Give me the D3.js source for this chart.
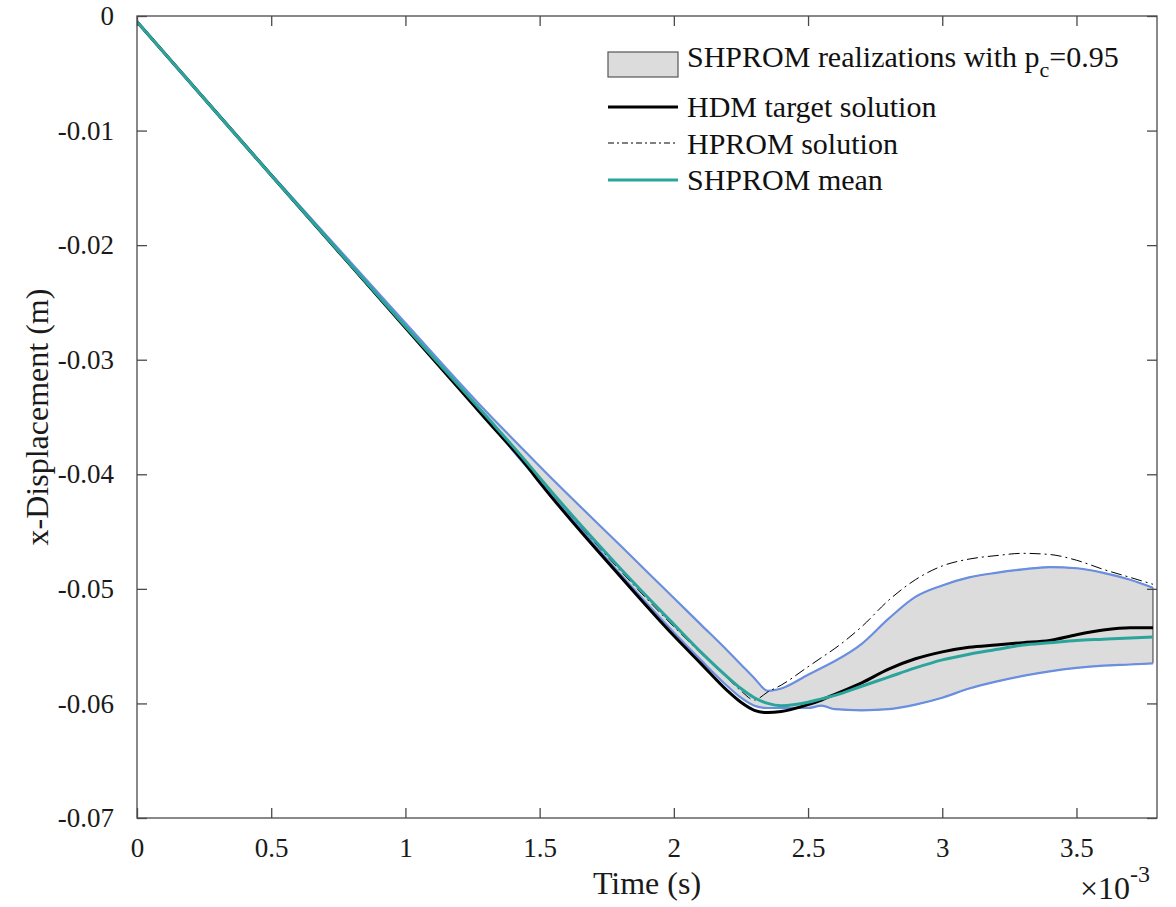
<!DOCTYPE html>
<html>
<head>
<meta charset="utf-8">
<script src="https://cdn.jsdelivr.net/npm/d3@7/dist/d3.min.js"></script>
<style>
  html, body { margin: 0; padding: 0; background: #fff; }
  svg { display: block; }
  svg text { font-family: "Liberation Serif", "Times New Roman", serif !important; }
</style>
</head>
<body>
<svg id="chart" width="1176" height="907"></svg>
<script>
// Time samples (units of 1e-3 s)
const timeMs = [0, 0.5, 1.0, 1.3, 1.45, 1.5, 1.8, 2.0, 2.1, 2.2, 2.25, 2.3, 2.35, 2.4, 2.5, 2.55, 2.6, 2.7, 2.8, 2.9, 3.0, 3.1, 3.2, 3.3, 3.4, 3.5, 3.6, 3.7, 3.785];

// HDM target solution (m)
const hdm = [-0.0005, -0.0139, -0.0272, -0.0352, -0.0392, -0.0407, -0.0489, -0.0541, -0.0565, -0.0589, -0.0599, -0.0606, -0.0608, -0.0607, -0.0601, -0.0597, -0.0592, -0.0582, -0.0570, -0.0561, -0.0555, -0.0551, -0.0549, -0.0547, -0.0545, -0.0540, -0.0536, -0.0534, -0.0534];

// HPROM solution (m)
const hprom = [-0.0005, -0.0139, -0.0271, -0.0350, -0.0390, -0.0404, -0.0484, -0.0533, -0.0556, -0.0578, -0.0589, -0.0597, -0.0590, -0.0584, -0.0568, -0.0560, -0.0552, -0.0533, -0.0510, -0.0492, -0.0480, -0.0474, -0.0471, -0.0469, -0.0470, -0.0475, -0.0483, -0.0490, -0.0496];

// SHPROM mean (m)
const shpromMean = [-0.0005, -0.0139, -0.0271, -0.0349, -0.0389, -0.0403, -0.0482, -0.0531, -0.0555, -0.0577, -0.0587, -0.0595, -0.0600, -0.0602, -0.0599, -0.0596, -0.0593, -0.0585, -0.0577, -0.0569, -0.0562, -0.0557, -0.0553, -0.0549, -0.0547, -0.0545, -0.0544, -0.0543, -0.0542];

// SHPROM realizations: 95% confidence band limits (m)
const bandUpper = [-0.0005, -0.0138, -0.0268, -0.0345, -0.0381, -0.0393, -0.0462, -0.0508, -0.0531, -0.0554, -0.0566, -0.0578, -0.0589, -0.0587, -0.0575, -0.0569, -0.0563, -0.0548, -0.0526, -0.0507, -0.0497, -0.0490, -0.0486, -0.0483, -0.0481, -0.0482, -0.0486, -0.0492, -0.0499];
const bandLower = [-0.0005, -0.0139, -0.0272, -0.0351, -0.0393, -0.0406, -0.0487, -0.0538, -0.0562, -0.0585, -0.0595, -0.0602, -0.0604, -0.0604, -0.0604, -0.0602, -0.0605, -0.0606, -0.0605, -0.0601, -0.0595, -0.0587, -0.0581, -0.0576, -0.0572, -0.0569, -0.0567, -0.0566, -0.0565];

// Axis ticks
const xTicks = [0, 0.5, 1, 1.5, 2, 2.5, 3, 3.5];
const xTickLabels = ["0", "0.5", "1", "1.5", "2", "2.5", "3", "3.5"];
const yTicks = [0, -0.01, -0.02, -0.03, -0.04, -0.05, -0.06, -0.07];
const yTickLabels = ["0", "-0.01", "-0.02", "-0.03", "-0.04", "-0.05", "-0.06", "-0.07"];

const colors = {
  band: "#dcdcdc",
  bandEdge: "#6b8fe0",
  hdm: "#000000",
  hprom: "#000000",
  mean: "#2ba59c",
  axis: "#4a4a4a",
  text: "#1a1a1a"
};

const svg = d3.select("#chart");
const plot = { left: 137, top: 16, right: 1157, bottom: 818 };

const x = d3.scaleLinear().domain([0, 3.8]).range([plot.left, plot.right]);
const y = d3.scaleLinear().domain([-0.07, 0]).range([plot.bottom, plot.top]);

const rows = timeMs.map((t, i) => ({
  t, hdm: hdm[i], hprom: hprom[i], mean: shpromMean[i], up: bandUpper[i], lo: bandLower[i]
}));

svg.append("defs").append("clipPath").attr("id", "plotClip")
  .append("rect")
  .attr("x", plot.left).attr("y", plot.top)
  .attr("width", plot.right - plot.left).attr("height", plot.bottom - plot.top);

const g = svg.append("g").attr("clip-path", "url(#plotClip)");
const curve = d3.curveMonotoneX;

// confidence band
g.append("path")
  .datum(rows)
  .attr("d", d3.area().curve(curve).x(d => x(d.t)).y0(d => y(d.lo)).y1(d => y(d.up)))
  .attr("fill", colors.band)
  .attr("stroke", "#3a3a3a")
  .attr("stroke-width", 1);

const line = key => d3.line().curve(curve).x(d => x(d.t)).y(d => y(d[key]));

// band limits
g.append("path").datum(rows).attr("d", line("up"))
  .attr("fill", "none").attr("stroke", colors.bandEdge).attr("stroke-width", 2.2);
g.append("path").datum(rows).attr("d", line("lo"))
  .attr("fill", "none").attr("stroke", colors.bandEdge).attr("stroke-width", 2.2);

// HDM
g.append("path").datum(rows).attr("d", line("hdm"))
  .attr("fill", "none").attr("stroke", colors.hdm).attr("stroke-width", 3);

// HPROM
g.append("path").datum(rows).attr("d", line("hprom"))
  .attr("fill", "none").attr("stroke", colors.hprom).attr("stroke-width", 1)
  .attr("stroke-dasharray", "11 4 2 4");

// SHPROM mean
g.append("path").datum(rows).attr("d", line("mean"))
  .attr("fill", "none").attr("stroke", colors.mean).attr("stroke-width", 3);

// Axes box with inward ticks on all sides
const tickLen = 10;
const axes = svg.append("g");
axes.append("rect")
  .attr("x", plot.left).attr("y", plot.top)
  .attr("width", plot.right - plot.left).attr("height", plot.bottom - plot.top)
  .attr("fill", "none").attr("stroke", colors.axis).attr("stroke-width", 1.3);

const bottomAxis = d3.axisBottom(x).tickValues(xTicks).tickSizeInner(-tickLen).tickSizeOuter(0)
  .tickFormat((d, i) => xTickLabels[i]).tickPadding(20);
const topAxis = d3.axisTop(x).tickValues(xTicks).tickSizeInner(-tickLen).tickSizeOuter(0).tickFormat("");
const leftAxis = d3.axisLeft(y).tickValues(yTicks).tickSizeInner(-tickLen).tickSizeOuter(0)
  .tickFormat((d, i) => yTickLabels[i]).tickPadding(23);
const rightAxis = d3.axisRight(y).tickValues(yTicks).tickSizeInner(-tickLen).tickSizeOuter(0).tickFormat("");

function styleAxis(sel) {
  sel.select(".domain").remove();
  sel.selectAll(".tick line").attr("stroke", colors.axis).attr("stroke-width", 1.3);
  sel.selectAll(".tick text").attr("fill", colors.text).attr("font-size", 27);
}
axes.append("g").attr("transform", `translate(0,${plot.bottom})`).call(bottomAxis).call(styleAxis);
axes.append("g").attr("transform", `translate(0,${plot.top})`).call(topAxis).call(styleAxis);
axes.append("g").attr("transform", `translate(${plot.left},0)`).call(leftAxis).call(styleAxis);
axes.append("g").attr("transform", `translate(${plot.right},0)`).call(rightAxis).call(styleAxis);

// Axis titles
svg.append("text")
  .attr("x", (plot.left + plot.right) / 2).attr("y", 894)
  .attr("text-anchor", "middle").attr("font-size", 32).attr("fill", colors.text)
  .text("Time (s)");

svg.append("text")
  .attr("transform", `translate(48,${(plot.top + plot.bottom) / 2}) rotate(-90)`)
  .attr("text-anchor", "middle").attr("font-size", 32).attr("fill", colors.text)
  .text("x-Displacement (m)");

// Exponent marker for the time axis
const expo = svg.append("text").attr("x", 1080).attr("y", 899).attr("font-size", 32).attr("fill", colors.text);
expo.append("tspan").text("\u00d710");
expo.append("tspan").attr("dy", -17).attr("font-size", 24).text("-3");

// Legend
const legend = svg.append("g").attr("font-size", 30).attr("fill", "#111");
const lx0 = 608, lx1 = 678, tx = 687;

legend.append("rect")
  .attr("x", lx0).attr("y", 52).attr("width", lx1 - lx0).attr("height", 25)
  .attr("fill", colors.band).attr("stroke", "#555").attr("stroke-width", 1.2);
const l1 = legend.append("text").attr("x", tx).attr("y", 67);
l1.append("tspan").text("SHPROM realizations with p");
l1.append("tspan").attr("dy", 10).attr("font-size", 22).text("c");
l1.append("tspan").attr("dy", -10).text("=0.95");

const legendLines = [
  { label: "HDM target solution", y: 107, color: colors.hdm, width: 3, dash: null, base: 117 },
  { label: "HPROM solution", y: 143, color: colors.hprom, width: 1, dash: "6 3 2 3", base: 154 },
  { label: "SHPROM mean", y: 180, color: colors.mean, width: 3, dash: null, base: 190 }
];
legendLines.forEach(item => {
  legend.append("line")
    .attr("x1", lx0).attr("x2", lx1).attr("y1", item.y).attr("y2", item.y)
    .attr("stroke", item.color).attr("stroke-width", item.width)
    .attr("stroke-dasharray", item.dash);
  legend.append("text").attr("x", tx).attr("y", item.base).text(item.label);
});
</script>
</body>
</html>
